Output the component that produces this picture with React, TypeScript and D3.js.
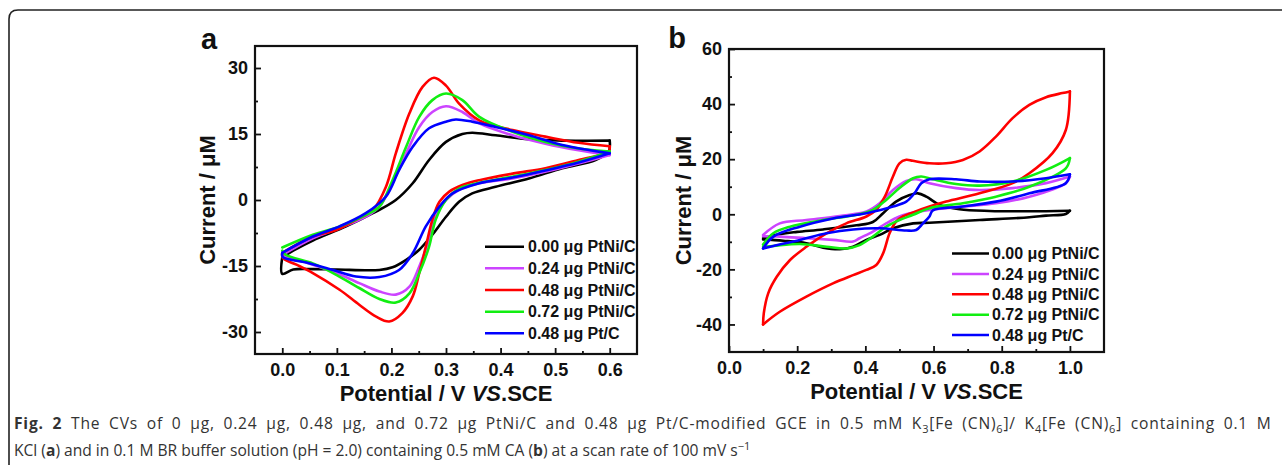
import React, { useEffect, useRef } from "react";
import * as d3 from "d3";

type Pt = [number, number];

const legendLabels = ["0.00 μg PtNi/C", "0.24 μg PtNi/C", "0.48 μg PtNi/C", "0.72 μg PtNi/C", "0.48 μg Pt/C"];
const colors = ["#000000", "#cc44ff", "#ff0000", "#11ee11", "#0000ff"];

// panel a: [E / V, I / uM], anodic sweep then reverse sweep
const a000Fwd: Pt[] = [[0, -13], [0.02, -11.5], [0.056, -9.2], [0.117, -6], [0.166, -3], [0.208, 0], [0.239, 3.8], [0.269, 9.1], [0.3, 13.2], [0.33, 15], [0.348, 15.3], [0.391, 14.7], [0.452, 13.8], [0.513, 13.5], [0.6, 13.5]];
const a000Rev: Pt[] = [[0.6, 13.5], [0.598, 11], [0.574, 9.1], [0.513, 7.2], [0.452, 4.9], [0.391, 3], [0.348, 1.5], [0.324, -0.4], [0.3, -3.8], [0.275, -7.9], [0.251, -11.3], [0.227, -13.6], [0.202, -15.3], [0.178, -15.9], [0.1, -15.8], [0.056, -15.7], [0.02, -15.8], [0, -16.8], [0, -13]];
const a024Fwd: Pt[] = [[0, -12.5], [0.056, -8.7], [0.105, -6.4], [0.153, -3.8], [0.178, -1.5], [0.202, 3.8], [0.227, 10.6], [0.251, 16.6], [0.275, 20], [0.3, 21.3], [0.33, 20], [0.361, 17.4], [0.422, 14.7], [0.482, 12.8], [0.543, 11.3], [0.6, 10.2]];
const a024Rev: Pt[] = [[0.6, 10.2], [0.543, 8.3], [0.482, 6.4], [0.422, 4.9], [0.361, 3.8], [0.324, 2.3], [0.3, 0], [0.281, -3.8], [0.269, -9], [0.251, -15.1], [0.233, -19.7], [0.208, -21.5], [0.178, -20.8], [0.141, -18.9], [0.099, -16.6], [0.056, -14.7], [0.007, -13], [0, -12.5]];
const a048Fwd: Pt[] = [[0, -12], [0.056, -8.3], [0.099, -6.8], [0.135, -4.5], [0.166, -2.3], [0.19, 3], [0.208, 10.6], [0.233, 19.7], [0.257, 25.7], [0.278, 27.8], [0.3, 26], [0.324, 21.9], [0.361, 18.1], [0.422, 15.9], [0.482, 14.4], [0.543, 13], [0.6, 12.2]];
const a048Rev: Pt[] = [[0.6, 12.2], [0.598, 11], [0.543, 9.1], [0.482, 7.2], [0.422, 6], [0.361, 4.5], [0.33, 3.4], [0.306, 1.9], [0.288, -0.4], [0.275, -4.5], [0.263, -10.6], [0.251, -16.6], [0.239, -21.9], [0.22, -25.7], [0.196, -27.6], [0.172, -26.5], [0.141, -23.8], [0.105, -20.4], [0.056, -16.6], [0.026, -14.7], [0.001, -13.2], [0, -12]];
const a072Fwd: Pt[] = [[0, -10.8], [0.056, -7.9], [0.105, -6], [0.153, -3.4], [0.178, -1.5], [0.202, 4.5], [0.227, 12.1], [0.251, 18.9], [0.275, 22.7], [0.3, 24.2], [0.33, 22.7], [0.361, 18.9], [0.422, 15.5], [0.482, 13.2], [0.543, 11.7], [0.6, 11]];
const a072Rev: Pt[] = [[0.6, 11], [0.543, 8.7], [0.482, 6.8], [0.422, 5.3], [0.361, 3.9], [0.324, 2.6], [0.3, 0], [0.281, -4.5], [0.269, -10.6], [0.251, -16.6], [0.233, -21.2], [0.208, -23.3], [0.178, -22.5], [0.141, -20], [0.099, -17], [0.056, -14.4], [0.007, -12.5], [0, -11.5]];
const aPtFwd: Pt[] = [[0, -12], [0.056, -8.3], [0.105, -6], [0.153, -3], [0.19, 0.8], [0.214, 6.8], [0.239, 12.1], [0.269, 16.3], [0.3, 17.8], [0.318, 18.3], [0.348, 17.8], [0.391, 16.6], [0.452, 14.7], [0.513, 12.5], [0.6, 10.6]];
const aPtRev: Pt[] = [[0.6, 10.6], [0.543, 8.5], [0.482, 6.7], [0.422, 5.1], [0.361, 3.8], [0.312, 1.5], [0.288, -1.5], [0.263, -6], [0.239, -12.1], [0.214, -15.9], [0.178, -17.5], [0.135, -17.4], [0.093, -15.9], [0.044, -14.2], [0.001, -13], [0, -12]];

// panel b
const b000Fwd: Pt[] = [[0.1, -8.7], [0.15, -7.2], [0.2, -6.4], [0.276, -5.5], [0.374, -4], [0.422, -2.8], [0.452, 0.4], [0.49, 4.6], [0.53, 7], [0.554, 7.6], [0.579, 6.4], [0.618, 3.4], [0.676, 1.8], [0.764, 1.2], [0.88, 1.1], [1.0, 1.3]];
const b000Rev: Pt[] = [[1.0, 1.3], [0.988, 0.1], [0.93, -0.5], [0.881, -1.1], [0.735, -2.1], [0.588, -3.1], [0.54, -3.3], [0.481, -5.1], [0.442, -7.5], [0.403, -9.3], [0.364, -11.8], [0.325, -12.7], [0.276, -12.1], [0.227, -10.5], [0.159, -9.6], [0.1, -9.1]];
const b024Fwd: Pt[] = [[0.1, -7.5], [0.149, -3.3], [0.227, -2.1], [0.325, -0.6], [0.403, 1], [0.442, 4], [0.481, 8.8], [0.52, 12.1], [0.549, 12.7], [0.588, 11.3], [0.666, 9.5], [0.735, 8.8], [0.832, 9.5], [0.93, 11.3], [1.0, 13.7]];
const b024Rev: Pt[] = [[1.0, 13.7], [0.988, 11.3], [0.881, 6.4], [0.783, 4], [0.686, 2.8], [0.588, 1.6], [0.54, 0.6], [0.5, -0.8], [0.461, -3.3], [0.422, -6.3], [0.383, -8.7], [0.364, -9.9], [0.305, -9.3], [0.227, -8.7], [0.149, -8.1], [0.1, -8]];
const b048Fwd: Pt[] = [[0.1, -40], [0.102, -36], [0.115, -28.7], [0.14, -22.7], [0.179, -16.6], [0.227, -11.8], [0.286, -6.9], [0.344, -3.3], [0.403, -0.8], [0.432, 1.6], [0.457, 6.4], [0.481, 13.7], [0.5, 18.5], [0.52, 19.8], [0.539, 19.4], [0.588, 18.5], [0.637, 18.5], [0.686, 19.7], [0.735, 22.8], [0.783, 28.2], [0.832, 34.9], [0.881, 39.7], [0.93, 42.5], [0.978, 44], [1.0, 44.6]];
const b048Rev: Pt[] = [[1.0, 44.6], [0.988, 30.6], [0.949, 22.2], [0.881, 14.9], [0.832, 11.3], [0.735, 7.6], [0.637, 4.6], [0.588, 2.8], [0.54, 0.7], [0.51, -0.8], [0.49, -2.7], [0.471, -6.9], [0.452, -14.2], [0.432, -18.4], [0.403, -20.2], [0.364, -22.1], [0.305, -25.1], [0.227, -29.9], [0.149, -35.4], [0.1, -40]];
const b072Fwd: Pt[] = [[0.1, -11], [0.13, -6.9], [0.179, -4.5], [0.276, -2.1], [0.374, -0.2], [0.422, 1.6], [0.461, 5.2], [0.5, 9.5], [0.54, 13.1], [0.564, 13.7], [0.598, 12.7], [0.666, 11], [0.735, 10.4], [0.832, 11.9], [0.93, 16.1], [1.0, 20.4]];
const b072Rev: Pt[] = [[1.0, 20.4], [0.988, 16.7], [0.881, 10], [0.783, 6.4], [0.686, 4], [0.588, 2.2], [0.54, -0.2], [0.5, -2.1], [0.461, -4.5], [0.422, -8.1], [0.383, -11.2], [0.344, -12.4], [0.286, -11.8], [0.208, -10.8], [0.13, -11.5], [0.1, -11.8]];
const bPtFwd: Pt[] = [[0.1, -12.4], [0.13, -8.1], [0.208, -4.5], [0.305, -1.5], [0.403, 0.4], [0.481, 2.8], [0.52, 4.6], [0.544, 7.6], [0.564, 11.3], [0.588, 12.7], [0.666, 12.7], [0.735, 11.9], [0.832, 11.9], [0.93, 13.1], [1.0, 14.5]];
const bPtRev: Pt[] = [[1.0, 14.5], [0.988, 11.3], [0.881, 7.6], [0.783, 4.6], [0.686, 2.8], [0.598, 1.4], [0.588, -0.8], [0.569, -3.3], [0.549, -5.7], [0.52, -5.9], [0.442, -5.1], [0.364, -5.5], [0.286, -6.9], [0.208, -9.3], [0.13, -11.5], [0.1, -12.4]];

const aXMajor = [0, 0.1, 0.2, 0.3, 0.4, 0.5, 0.6];
const aXMinor = [0.05, 0.15, 0.25, 0.35, 0.45, 0.55];
const aYMajor = [-30, -15, 0, 15, 30];
const aYMinor = [-22.5, -7.5, 7.5, 22.5];
const bXMajor = [0, 0.2, 0.4, 0.6, 0.8, 1.0];
const bXMinor = [0.1, 0.3, 0.5, 0.7, 0.9];
const bYMajor = [-40, -20, 0, 20, 40, 60];
const bYMinor = [-30, -10, 10, 30, 50];

const FONT = "'Liberation Sans', Arial, sans-serif";

type PanelProps = {
  letter: string;
  box: { x0: number; x1: number; y0: number; y1: number };
  xDomain: [number, number];
  yDomain: [number, number];
  xMajor: number[];
  xMinor: number[];
  yMajor: number[];
  yMinor: number[];
  loops: Pt[][][];
  legend: { x1: number; x2: number; tx: number; y: number; dy: number };
  letterPos: [number, number];
  yLabelX: number;
};

function Panel(p: PanelProps) {
  const ref = useRef<SVGGElement>(null);

  useEffect(() => {
    const g = d3.select(ref.current);
    g.selectAll("*").remove();
    const { x0, x1, y0, y1 } = p.box;
    const x = d3.scaleLinear().domain(p.xDomain).range([x0, x1]);
    const y = d3.scaleLinear().domain(p.yDomain).range([y1, y0]);

    // curves
    const line = d3.line<Pt>().x(d => x(d[0])).y(d => y(d[1])).curve(d3.curveCatmullRom.alpha(0.5));
    p.loops.forEach((sweeps, i) => {
      sweeps.forEach(s => {
        g.append("path").attr("d", line(s)).attr("fill", "none")
          .attr("stroke", colors[i]).attr("stroke-width", 2.6)
          .attr("stroke-linejoin", "round").attr("stroke-linecap", "round");
      });
    });

    // axes, ticks point inward
    const xAx = g.append("g").attr("transform", `translate(0,${y1})`)
      .call(d3.axisBottom(x).tickValues(p.xMajor).tickSize(-6).tickPadding(9).tickFormat(d3.format(".1f")));
    g.append("g").attr("transform", `translate(0,${y1})`)
      .call(d3.axisBottom(x).tickValues(p.xMinor).tickSize(-3).tickFormat(() => ""));
    const yAx = g.append("g").attr("transform", `translate(${x0},0)`)
      .call(d3.axisLeft(y).tickValues(p.yMajor).tickSize(-6).tickPadding(7).tickFormat(d => String(d)));
    g.append("g").attr("transform", `translate(${x0},0)`)
      .call(d3.axisLeft(y).tickValues(p.yMinor).tickSize(-3).tickFormat(() => ""));
    g.selectAll(".domain").remove();
    g.selectAll(".tick line").attr("stroke", "#111").attr("stroke-width", 1.8);
    [xAx, yAx].forEach(a => a.selectAll("text").attr("font-family", FONT).attr("font-size", 18)
      .attr("font-weight", "bold").attr("fill", "#111"));

    g.append("rect").attr("x", x0).attr("y", y0).attr("width", x1 - x0).attr("height", y1 - y0)
      .attr("fill", "none").attr("stroke", "#111").attr("stroke-width", 2.2);

    // titles
    const xt = g.append("text").attr("x", (x0 + x1) / 2).attr("y", y1 + 47).attr("text-anchor", "middle")
      .attr("font-family", FONT).attr("font-size", 22).attr("font-weight", "bold").attr("fill", "#111");
    xt.append("tspan").text("Potential / V ");
    xt.append("tspan").attr("font-style", "italic").text("VS");
    xt.append("tspan").text(".SCE");

    g.append("text").attr("transform", `translate(${p.yLabelX + 7.5},${(y0 + y1) / 2}) rotate(-90)`)
      .attr("text-anchor", "middle").attr("font-family", FONT).attr("font-size", 22)
      .attr("font-weight", "bold").attr("fill", "#111").text("Current / μM");

    g.append("text").attr("x", p.letterPos[0]).attr("y", p.letterPos[1]).attr("text-anchor", "middle")
      .attr("font-family", FONT).attr("font-size", 29).attr("font-weight", "bold").attr("fill", "#111")
      .text(p.letter);

    // legend
    const L = p.legend;
    legendLabels.forEach((lab, i) => {
      const yy = L.y + i * L.dy;
      g.append("line").attr("x1", L.x1).attr("x2", L.x2).attr("y1", yy).attr("y2", yy)
        .attr("stroke", colors[i]).attr("stroke-width", 2.5);
      g.append("text").attr("x", L.tx).attr("y", yy).attr("dy", "0.36em")
        .attr("font-family", FONT).attr("font-size", 16).attr("font-weight", "bold").attr("fill", "#111")
        .text(lab);
    });
  }, []);

  return <g ref={ref} />;
}

export default function App() {
  const capFont = "'Open Sans', sans-serif";
  return (
    <svg width={1282} height={465} style={{ position: "absolute", left: 0, top: 0, background: "#fff" }}>
      <path d="M9,470 L9,19 Q9,10 18,10 L1290,10" fill="none" stroke="#222" strokeWidth={1.6} />
      <Panel
        letter="a"
        box={{ x0: 255, x1: 637, y0: 46, y1: 354 }}
        xDomain={[-0.05, 0.65]}
        yDomain={[-35, 35]}
        xMajor={aXMajor} xMinor={aXMinor} yMajor={aYMajor} yMinor={aYMinor}
        loops={[[a000Fwd, a000Rev], [a024Fwd, a024Rev], [a048Fwd, a048Rev], [a072Fwd, a072Rev], [aPtFwd, aPtRev]]}
        legend={{ x1: 485, x2: 524, tx: 528, y: 246.7, dy: 21.65 }}
        letterPos={[209, 49]}
        yLabelX={207}
      />
      <Panel
        letter="b"
        box={{ x0: 729, x1: 1104, y0: 49, y1: 352 }}
        xDomain={[0, 1.1]}
        yDomain={[-50, 60]}
        xMajor={bXMajor} xMinor={bXMinor} yMajor={bYMajor} yMinor={bYMinor}
        loops={[[b000Fwd, b000Rev], [b024Fwd, b024Rev], [b048Fwd, b048Rev], [b072Fwd, b072Rev], [bPtFwd, bPtRev]]}
        legend={{ x1: 952, x2: 989, tx: 992, y: 253.5, dy: 20.4 }}
        letterPos={[677, 48]}
        yLabelX={683}
      />
      <text x={14} y={429} fontFamily={capFont} fontSize={15.6} fill="#333" letterSpacing={0.8} wordSpacing={3.9}>
        <tspan fontWeight="bold">Fig. 2</tspan>
        <tspan> The CVs of 0 μg, 0.24 μg, 0.48 μg, and 0.72 μg PtNi/C and 0.48 μg Pt/C-modified GCE in 0.5 mM K</tspan>
        <tspan fontSize={11} dy={4}>3</tspan>
        <tspan dy={-4}>[Fe (CN)</tspan>
        <tspan fontSize={11} dy={4}>6</tspan>
        <tspan dy={-4}>]/ K</tspan>
        <tspan fontSize={11} dy={4}>4</tspan>
        <tspan dy={-4}>[Fe (CN)</tspan>
        <tspan fontSize={11} dy={4}>6</tspan>
        <tspan dy={-4}>] containing 0.1 M</tspan>
      </text>
      <text x={14} y={456} fontFamily={capFont} fontSize={15.6} fill="#333">
        <tspan>KCl (</tspan>
        <tspan fontWeight="bold">a</tspan>
        <tspan>) and in 0.1 M BR buffer solution (pH = 2.0) containing 0.5 mM CA (</tspan>
        <tspan fontWeight="bold">b</tspan>
        <tspan>) at a scan rate of 100 mV s</tspan>
        <tspan fontSize={11} dy={-6}>−1</tspan>
      </text>
    </svg>
  );
}
